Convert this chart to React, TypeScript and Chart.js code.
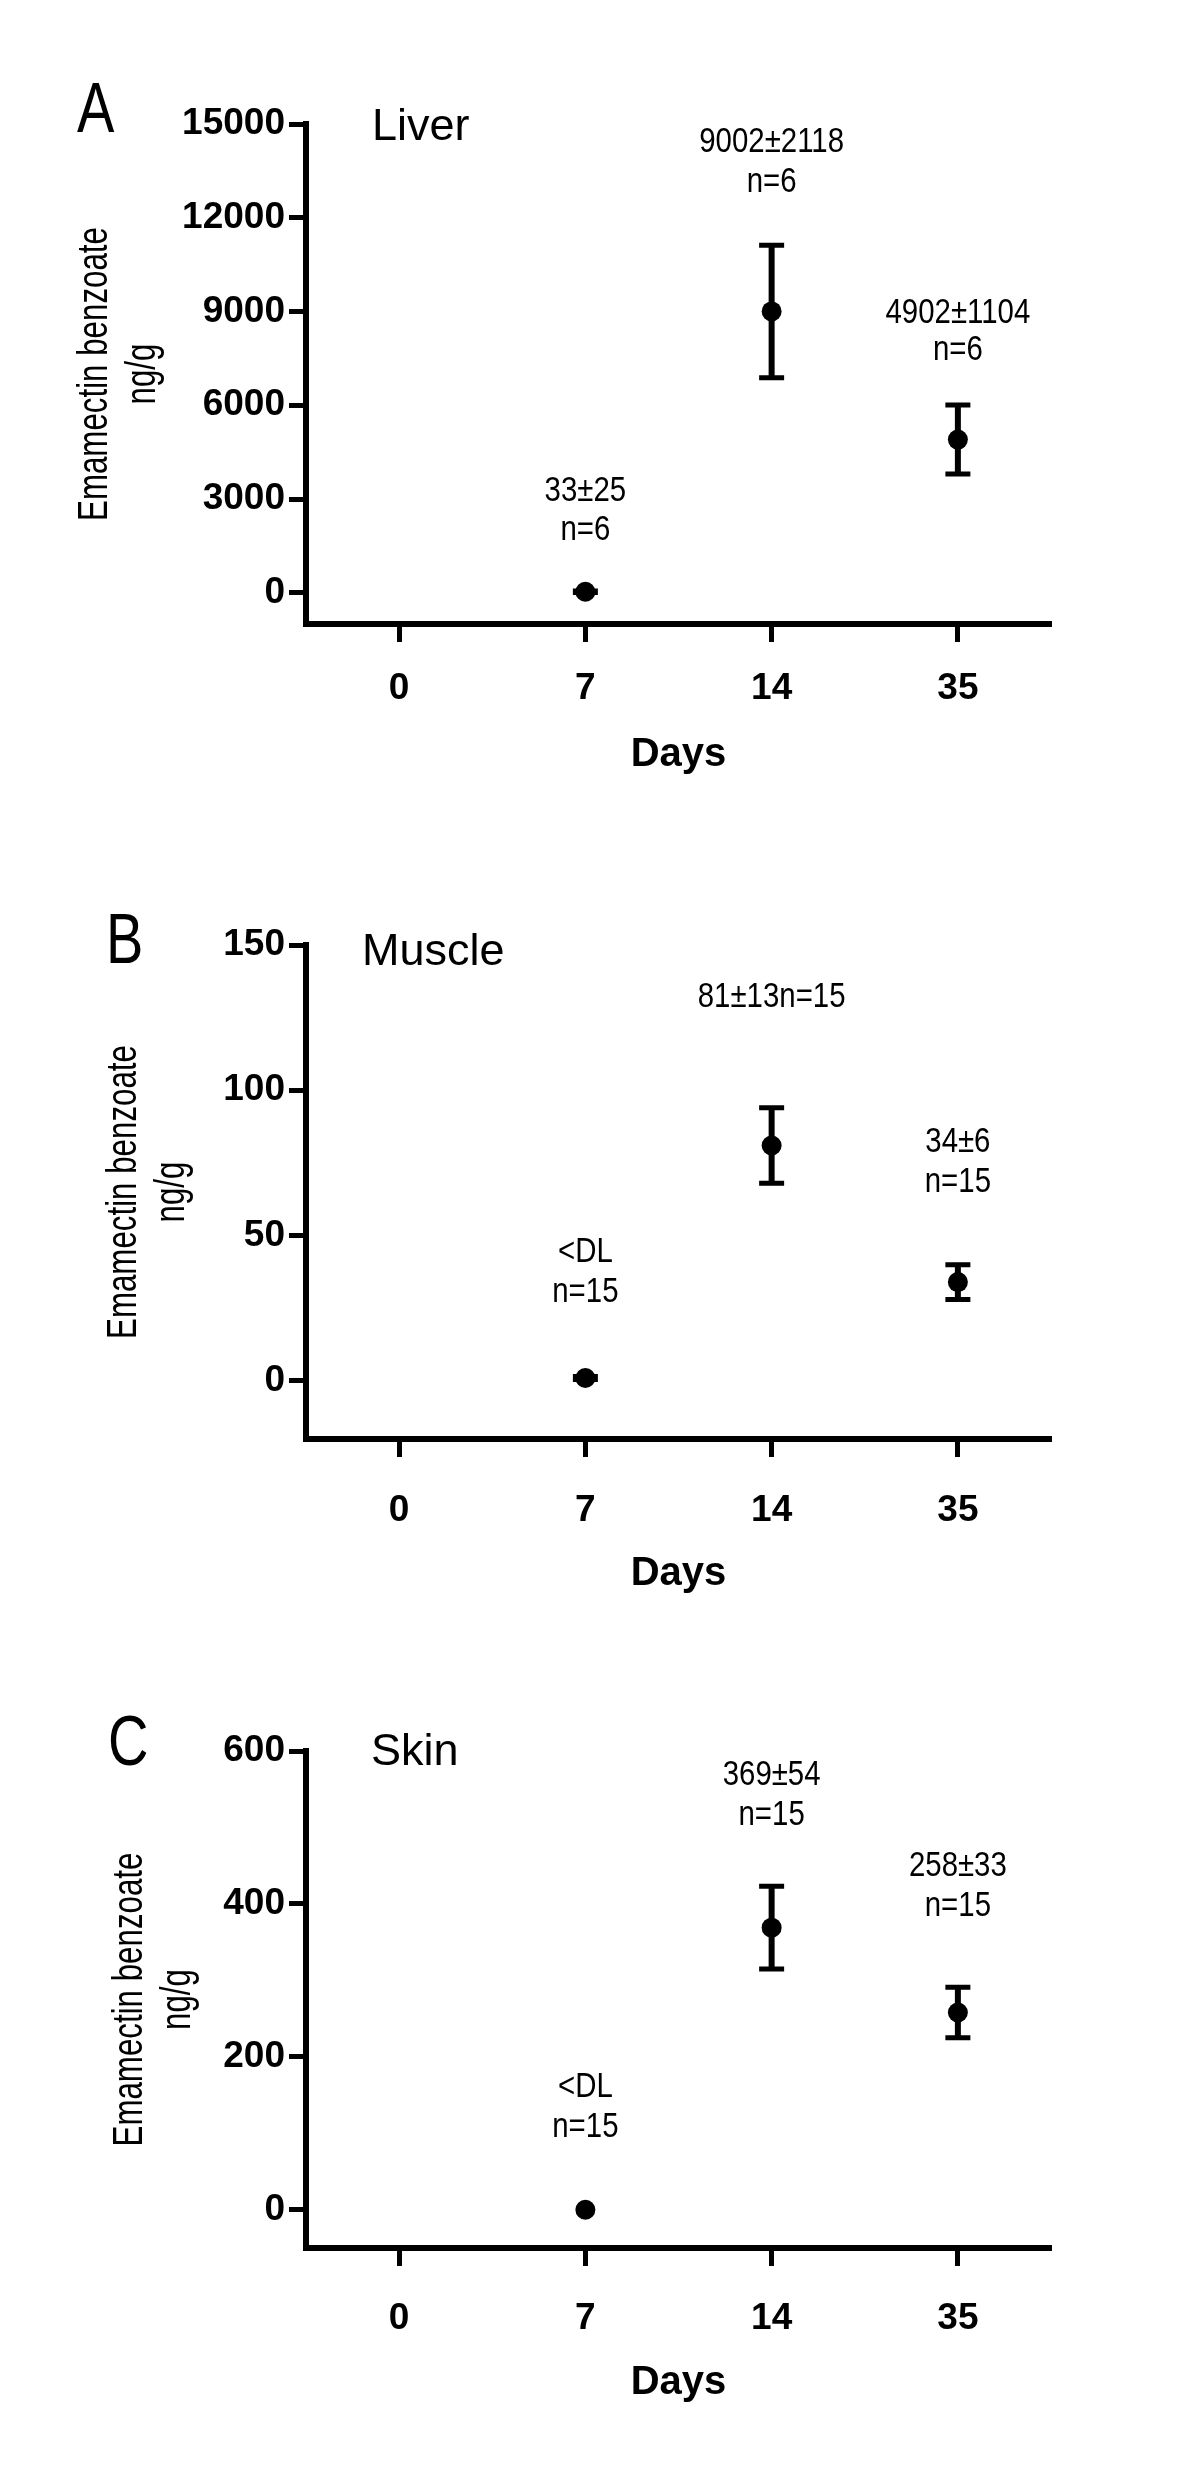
import React, { useEffect, useRef } from "react";
import { Chart, registerables } from "chart.js";

Chart.register(...registerables);

// ---------- data ----------
const days = ["0", "7", "14", "35"];

const liverMean = [null, 33, 9002, 4902];
const liverSem = [null, 25, 2118, 1104];
const liverTicks = [0, 3000, 6000, 9000, 12000, 15000];
const liverNotes = [null, ["33±25", "n=6"], ["9002±2118", "n=6"], ["4902±1104", "n=6"]];

const muscleMean = [null, 1, 81, 34];
const muscleSem = [null, 0.5, 13, 6];
const muscleTicks = [0, 50, 100, 150];
const muscleNotes = [null, ["<DL", "n=15"], ["81±13n=15"], ["34±6", "n=15"]];

const skinMean = [null, 0, 369, 258];
const skinSem = [null, 0, 54, 33];
const skinTicks = [0, 200, 400, 600];
const skinNotes = [null, ["<DL", "n=15"], ["369±54", "n=15"], ["258±33", "n=15"]];

const yTitle = ["Emamectin benzoate", "ng/g"];
const xTitle = "Days";

// ---------- layout / style ----------
const SANS = '"Liberation Sans", Arial, Helvetica, sans-serif';

type Panel = {
  letter: string;
  name: string;
  mean: (number | null)[];
  sem: (number | null)[];
  ticks: number[];
  notes: (string[] | null)[];
  yMin: number;
  yMax: number;
  top: number;
  height: number;
  areaTop: number;
  areaBottom: number;
  xTickPad: number;
  xAxisH: number;
  yTitleBase: number;
  letterPos: [number, number];
  namePos: [number, number];
  noteY: (number[] | null)[];
};

const panels: Panel[] = [
  {
    letter: "A", name: "Liver", mean: liverMean, sem: liverSem, ticks: liverTicks, notes: liverNotes,
    yMin: -1000, yMax: 15000,
    top: 0, height: 820, areaTop: 124, areaBottom: 624, xTickPad: 25, xAxisH: 155, yTitleBase: 107,
    letterPos: [77, 132], namePos: [372, 140],
    noteY: [null, [491, 530], [142, 182], [313, 350]],
  },
  {
    letter: "B", name: "Muscle", mean: muscleMean, sem: muscleSem, ticks: muscleTicks, notes: muscleNotes,
    yMin: -20, yMax: 150,
    top: 820, height: 800, areaTop: 945, areaBottom: 1439, xTickPad: 32, xAxisH: 159, yTitleBase: 136,
    letterPos: [106, 963], namePos: [362, 965],
    noteY: [null, [1252, 1292], [997], [1142, 1182]],
  },
  {
    letter: "C", name: "Skin", mean: skinMean, sem: skinSem, ticks: skinTicks, notes: skinNotes,
    yMin: -50, yMax: 600,
    top: 1620, height: 854, areaTop: 1751, areaBottom: 2248, xTickPad: 31, xAxisH: 159, yTitleBase: 142,
    letterPos: [108, 1765], namePos: [371, 1765],
    noteY: [null, [2087, 2127], [1775, 1815], [1866, 1906]],
  },
];

const AXIS_LEFT = 306;
const AXIS_RIGHT = 1051;

function narrowText(ctx: CanvasRenderingContext2D, t: string, x: number, y: number, sx: number) {
  ctx.save();
  ctx.translate(x, y);
  ctx.scale(sx, 1);
  ctx.fillText(t, 0, 0);
  ctx.restore();
}

function makeChart(canvas: HTMLCanvasElement, p: Panel) {
  const errorBars = {
    id: "errorBars" + p.letter,
    beforeDatasetsDraw(chart: any) {
      const { ctx } = chart;
      const xs = chart.scales.x;
      const ys = chart.scales.y;
      ctx.save();
      ctx.strokeStyle = "#000";
      ctx.lineCap = "butt";
      p.mean.forEach((m, i) => {
        const s = p.sem[i];
        if (m === null || s === null || !s) return;
        const x = xs.getPixelForValue(i);
        const yT = ys.getPixelForValue(m + s);
        const yB = ys.getPixelForValue(m - s);
        ctx.lineWidth = 6;
        ctx.beginPath();
        ctx.moveTo(x, yT);
        ctx.lineTo(x, yB);
        ctx.stroke();
        ctx.lineWidth = 5;
        ctx.beginPath();
        ctx.moveTo(x - 12.5, yT);
        ctx.lineTo(x + 12.5, yT);
        ctx.moveTo(x - 12.5, yB);
        ctx.lineTo(x + 12.5, yB);
        ctx.stroke();
      });
      ctx.restore();
    },
  };

  const texts = {
    id: "texts" + p.letter,
    afterDraw(chart: any) {
      const { ctx, chartArea } = chart;
      const xs = chart.scales.x;
      ctx.save();
      ctx.fillStyle = "#000";
      ctx.textAlign = "left";
      ctx.textBaseline = "alphabetic";
      // panel letter
      ctx.font = `70px ${SANS}`;
      narrowText(ctx, p.letter, p.letterPos[0], p.letterPos[1] - p.top, 0.8);
      // tissue name
      ctx.font = `45px ${SANS}`;
      ctx.fillText(p.name, p.namePos[0], p.namePos[1] - p.top);
      // y axis title (rotated, condensed)
      ctx.save();
      ctx.translate(p.yTitleBase, (chartArea.top + chartArea.bottom) / 2);
      ctx.rotate(-Math.PI / 2);
      ctx.scale(0.745, 1);
      ctx.font = `42px ${SANS}`;
      ctx.textAlign = "center";
      ctx.textBaseline = "alphabetic";
      yTitle.forEach((t, k) => ctx.fillText(t, 0, k * 48 / 1));
      ctx.restore();
      // annotations
      ctx.font = `35px ${SANS}`;
      ctx.textAlign = "center";
      ctx.textBaseline = "middle";
      p.notes.forEach((lines, i) => {
        const ys = p.noteY[i];
        if (!lines || !ys) return;
        const x = xs.getPixelForValue(i);
        lines.forEach((t, k) => narrowText(ctx, t, x, ys[k] - p.top, 0.84));
      });
      ctx.restore();
    },
  };

  const relTop = p.areaTop - p.top;
  const relBottom = p.areaBottom - p.top;
  const padBottom = p.height - relBottom - p.xAxisH;

  return new Chart(canvas, {
    type: "line",
    data: {
      labels: days,
      datasets: [
        {
          data: p.mean as any,
          showLine: false,
          pointRadius: 10,
          pointHoverRadius: 10,
          pointBackgroundColor: "#000",
          pointBorderColor: "#000",
          pointBorderWidth: 0,
          borderColor: "#000",
        },
      ],
    },
    options: {
      animation: false,
      responsive: true,
      maintainAspectRatio: false,
      events: [],
      layout: {
        padding: { top: relTop, left: 0, right: 1200 - AXIS_RIGHT, bottom: padBottom },
      },
      plugins: {
        legend: { display: false },
        tooltip: { enabled: false },
        title: { display: false },
      },
      scales: {
        x: {
          type: "category",
          offset: true,
          grid: {
            display: true,
            drawOnChartArea: false,
            drawTicks: true,
            tickLength: 18,
            tickWidth: 5,
            tickColor: "#000",
            offset: false,
          },
          border: { display: true, width: 6, color: "#000" },
          ticks: {
            color: "#000",
            font: { family: SANS, size: 37, weight: "bold", lineHeight: 1.2 },
            padding: p.xTickPad,
            maxRotation: 0,
            autoSkip: false,
          },
          title: {
            display: true,
            text: xTitle,
            color: "#000",
            font: { family: SANS, size: 40, weight: "bold", lineHeight: 1.2 },
            padding: { top: 0, bottom: 0 },
          },
          afterFit: (s: any) => {
            s.height = p.xAxisH;
          },
        },
        y: {
          type: "linear",
          min: p.yMin,
          max: p.yMax,
          afterBuildTicks: (s: any) => {
            s.ticks = p.ticks.map((v) => ({ value: v }));
          },
          grid: {
            display: true,
            drawOnChartArea: false,
            drawTicks: true,
            tickLength: 17,
            tickWidth: 5,
            tickColor: "#000",
          },
          border: { display: true, width: 6, color: "#000" },
          ticks: {
            color: "#000",
            font: { family: SANS, size: 37, weight: "bold", lineHeight: 1.2 },
            padding: 4,
            callback: (v: any) => String(v),
          },
          title: { display: false },
          afterFit: (s: any) => {
            s.width = AXIS_LEFT;
          },
        },
      },
    } as any,
    plugins: [errorBars, texts],
  });
}

export default function App() {
  const r0 = useRef<HTMLCanvasElement | null>(null);
  const r1 = useRef<HTMLCanvasElement | null>(null);
  const r2 = useRef<HTMLCanvasElement | null>(null);

  useEffect(() => {
    const refs = [r0, r1, r2];
    const charts = panels.map((p, i) => makeChart(refs[i].current as HTMLCanvasElement, p));
    return () => charts.forEach((c) => c.destroy());
  }, []);

  const refs = [r0, r1, r2];
  return (
    <div style={{ position: "absolute", left: 0, top: 0, width: 1200, height: 2474, background: "#fff" }}>
      {panels.map((p, i) => (
        <div
          key={p.letter}
          style={{ position: "absolute", left: 0, top: p.top, width: 1200, height: p.height }}
        >
          <canvas ref={refs[i]} />
        </div>
      ))}
    </div>
  );
}
